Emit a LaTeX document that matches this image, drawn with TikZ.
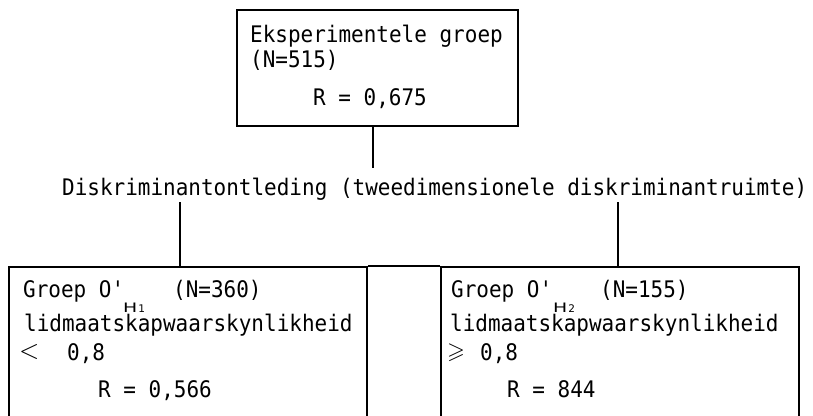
\documentclass[tikz,border=0pt]{standalone}
\usepackage{graphicx}
\usepackage{amssymb}
\usepackage{fontspec}
\setmonofont{DejaVu Sans Mono}[FakeStretch=0.92]
\newfontfamily\subfont{DejaVu Sans}
\newcommand\subH[1]{\scalebox{1.45}[1]{H}\kern1pt{\fontsize{10.5}{10}\selectfont #1}}
\begin{document}
\begin{tikzpicture}[x=1pt,y=-1pt,
  frame/.style={draw, line width=1.9pt, inner sep=0pt, anchor=north west},
  link/.style={draw, line width=2.4pt},
  txt/.style={anchor=base west, inner sep=0pt, font=\ttfamily\fontsize{22.8}{27}\selectfont},
  sub/.style={anchor=base west, inner sep=0pt, text depth=0pt, font=\subfont\fontsize{13}{14}\selectfont},
  rel/.style={anchor=base west, inner sep=0pt}]
\useasboundingbox (0,0) rectangle (813,415);
\clip (0,0) rectangle (813,415);

% top group
\node[frame, minimum width=281pt, minimum height=116pt] (top) at (236,9) {};
\node[txt] (t1) at (250,42.5) {Eksperimentele groep};
\node[txt] (t2) at (250,67) {(N=515)};
\node[txt] (t3) at (313,105) {R = 0,675};

% analysis line
\coordinate (c0) at (373,168);
\draw[link] (top.south -| c0) -- (c0);
\node[txt] (head) at (62,195) {Diskriminantontleding (tweedimensionele diskriminantruimte)};

% two sub-groups (open at the bottom)
\node[frame, minimum width=358pt, minimum height=175pt] (left) at (8,266) {};
\node[frame, minimum width=358pt, minimum height=175pt] (right) at (440,266) {};
\draw[line width=1.9pt] (left.north east) -- (right.north west);

\coordinate (c1) at (180,202);
\coordinate (c2) at (618,202);
\draw[link] (c1) -- (c1 |- left.north);
\draw[link] (c2) -- (c2 |- right.north);

% left group text
\node[txt] (l1) at (23,297) {Groep O'};
\node[sub] (l1s) at (123,312.5) {\subH{1}};
\node[txt] (l1n) at (173,297) {(N=360)};
\node[txt] (l2) at (24,331.5) {lidmaatskapwaarskynlikheid};
\node[rel] (l3r) at (19,358.5) {\scalebox{2.6}{$<$}};
\node[txt] (l3) at (67,360) {0,8};
\node[txt] (l4) at (98,397) {R = 0,566};

% right group text
\node[txt] (r1) at (451,297) {Groep O'};
\node[sub] (r1s) at (553,312.5) {\subH{2}};
\node[txt] (r1n) at (600,297) {(N=155)};
\node[txt] (r2) at (450,331.5) {lidmaatskapwaarskynlikheid};
\node[rel] (r3r) at (447,358) {\scalebox{2.3}{$\geqslant$}};
\node[txt] (r3) at (480,360) {0,8};
\node[txt] (r4) at (507,397) {R = 844};
\end{tikzpicture}
\end{document}
